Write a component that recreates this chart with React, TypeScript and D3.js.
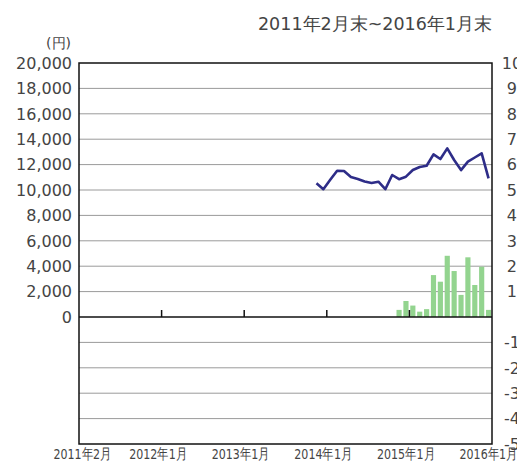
import React, { useRef, useEffect } from 'react';
import * as d3 from 'd3';

// months Feb 2011 .. Jan 2016 (60 categories)
const months: string[] = [];
for (let y = 2011; y <= 2016; y++) {
  for (let m = 1; m <= 12; m++) {
    if ((y === 2011 && m < 2) || (y === 2016 && m > 1)) continue;
    months.push(`${y}-${String(m).padStart(2, '0')}`);
  }
}

// 基準価額 (円), starts Dec 2013
const priceStart = '2013-12';
const priceValues = [
  10530, 10060, 10800, 11520, 11500, 11020, 10870, 10670, 10550, 10650,
  10060, 11180, 10850, 11050, 11570, 11810, 11910, 12810, 12440, 13280,
  12360, 11570, 12230, 12560, 12890, 10920,
];

// green bars (right axis), starts Dec 2014
const barStart = '2014-12';
const barValues = [2.8, 6.3, 4.5, 2.1, 3.1, 16.5, 13.9, 24.1, 18.1, 8.7, 23.5, 12.6, 19.8, 2.8];

const leftTicks = [-10000, -8000, -6000, -4000, -2000, 0, 2000, 4000, 6000, 8000, 10000, 12000, 14000, 16000, 18000, 20000];
const rightTicks = [-50, -40, -30, -20, -10, 0, 10, 20, 30, 40, 50, 60, 70, 80, 90, 100];

const xLabelMonths = ['2011-02', '2012-01', '2013-01', '2014-01', '2015-01', '2016-01'];
const xLabelText = ['2011年2月', '2012年1月', '2013年1月', '2014年1月', '2015年1月', '2016年1月'];
const xTickMonths = ['2012-02', '2013-02', '2014-02', '2015-02'];

const title = '2011年2月末~2016年1月末';
const unitLabel = '(円)';

function Chart() {
  const svgRef = useRef<SVGSVGElement>(null);

  useEffect(() => {
    if (!svgRef.current) return;
    const width = 517;
    const height = 470;
    const left = 79, right = 492, top = 63, bottom = 444;
    const font = '"DejaVu Sans", sans-serif';

    const svg = d3.select(svgRef.current);
    svg.selectAll('*').remove();
    svg.attr('width', width).attr('height', height);

    const x = d3.scaleBand<string>().domain(months).range([left, right]).padding(0);
    const xBar = d3.scaleBand<string>().domain(months).range([left, right]).paddingInner(0.25).paddingOuter(0.125);
    const yL = d3.scaleLinear().domain([-10000, 20000]).range([bottom, top]);
    const yR = d3.scaleLinear().domain([-50, 100]).range([bottom, top]);

    // gridlines
    svg.append('g')
      .selectAll('line')
      .data(leftTicks.filter(d => d !== 0 && d !== 20000 && d !== -10000))
      .enter().append('line')
      .attr('x1', left).attr('x2', right)
      .attr('y1', d => yL(d)).attr('y2', d => yL(d))
      .attr('stroke', '#9a9a9a').attr('stroke-width', 1);

    // bars
    const bi = months.indexOf(barStart);
    const barData = barValues.map((v, i) => ({ m: months[bi + i], v }));
    svg.append('g')
      .selectAll('rect')
      .data(barData)
      .enter().append('rect')
      .attr('x', d => xBar(d.m)!)
      .attr('width', xBar.bandwidth())
      .attr('y', d => yR(d.v))
      .attr('height', d => yR(0) - yR(d.v))
      .attr('fill', '#93d48f');

    // line
    const pi = months.indexOf(priceStart);
    const priceData = priceValues.map((v, i) => ({ m: months[pi + i], v }));
    const line = d3.line<{ m: string; v: number }>()
      .x(d => x(d.m)! + x.bandwidth() / 2)
      .y(d => yL(d.v));
    svg.append('path')
      .datum(priceData)
      .attr('d', line)
      .attr('fill', 'none')
      .attr('stroke', '#2e2d88')
      .attr('stroke-width', 2.6)
      .attr('stroke-linejoin', 'round');

    // zero line + x ticks
    svg.append('line')
      .attr('x1', left).attr('x2', right)
      .attr('y1', yL(0)).attr('y2', yL(0))
      .attr('stroke', '#111').attr('stroke-width', 1.5);
    svg.append('g')
      .selectAll('line')
      .data(xTickMonths)
      .enter().append('line')
      .attr('x1', d => x(d)!).attr('x2', d => x(d)!)
      .attr('y1', yL(0)).attr('y2', yL(0) - 7)
      .attr('stroke', '#111').attr('stroke-width', 1.5);

    // frame
    svg.append('rect')
      .attr('x', left).attr('y', top)
      .attr('width', right - left).attr('height', bottom - top)
      .attr('fill', 'none').attr('stroke', '#111').attr('stroke-width', 1.5);

    // left labels
    svg.append('g')
      .selectAll('text')
      .data(leftTicks.filter(d => d >= 0))
      .enter().append('text')
      .attr('x', 72).attr('y', d => yL(d))
      .attr('dy', '0.36em')
      .attr('text-anchor', 'end')
      .attr('font-family', font).attr('font-size', 16)
      .attr('fill', '#444')
      .text(d => d3.format(',')(d));

    // right labels (cut off by the edge, as in the source)
    svg.append('g')
      .selectAll('text')
      .data(rightTicks.filter(d => d !== 0))
      .enter().append('text')
      .attr('x', 517).attr('y', d => yR(d))
      .attr('dy', '0.36em')
      .attr('text-anchor', 'middle')
      .attr('font-family', font).attr('font-size', 16)
      .attr('fill', '#444')
      .text(d => (d < 0 ? '-' + Math.abs(d) : String(d)));

    // x labels
    svg.append('g')
      .selectAll('text')
      .data(xLabelMonths)
      .enter().append('text')
      .attr('x', d => x(d)! + x.bandwidth() / 2)
      .attr('y', 459)
      .attr('text-anchor', 'middle')
      .attr('font-family', font).attr('font-size', 14.5)
      .attr('textLength', 58)
      .attr('lengthAdjust', 'spacingAndGlyphs')
      .attr('fill', '#444')
      .text((d, i) => xLabelText[i]);

    svg.append('text')
      .attr('x', 71).attr('y', 48)
      .attr('text-anchor', 'end')
      .attr('font-family', font).attr('font-size', 14)
      .attr('fill', '#444')
      .text(unitLabel);

    svg.append('text')
      .attr('x', 492).attr('y', 30)
      .attr('text-anchor', 'end')
      .attr('font-family', font).attr('font-size', 17.5)
      .attr('fill', '#444')
      .text(title);
  }, []);

  return <svg ref={svgRef} style={{ display: 'block' }}></svg>;
}

export default function App() {
  return (
    <div style={{ position: 'absolute', left: 0, top: 0 }}>
      <Chart />
    </div>
  );
}
